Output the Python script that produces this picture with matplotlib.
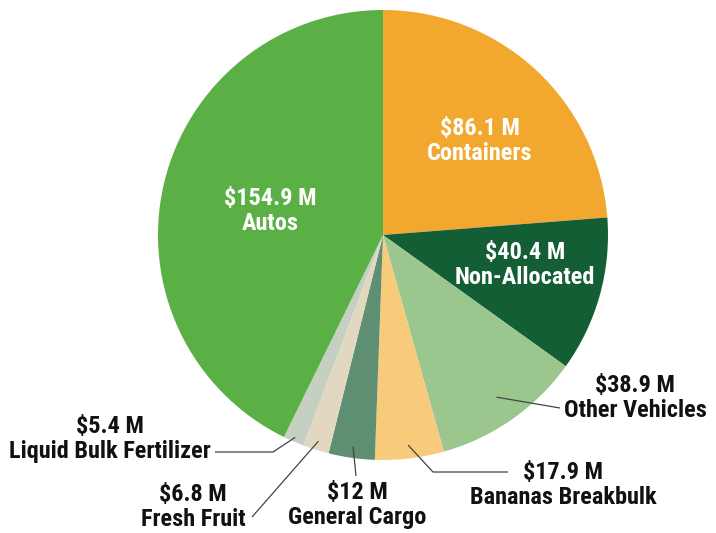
import numpy as np
import matplotlib
matplotlib.use("Agg")
import matplotlib.pyplot as plt
from matplotlib import font_manager

# ---- data ----
categories = ["Containers", "Non-Allocated", "Other Vehicles", "Bananas Breakbulk",
              "General Cargo", "Fresh Fruit", "Liquid Bulk Fertilizer", "Autos"]
values = [86.1, 40.4, 38.9, 17.9, 12, 6.8, 5.4, 154.9]
value_labels = ["$86.1 M", "$40.4 M", "$38.9 M", "$17.9 M", "$12 M", "$6.8 M", "$5.4 M", "$154.9 M"]
colors = ["#F2A72E", "#145E36", "#9BC78F", "#F7CA7C", "#5E8F73", "#E2D8C0", "#C6D0C2", "#5AB045"]

# ---- font ----
names = {f.name for f in font_manager.fontManager.ttflist}
STRETCH = "normal"
FS = 16
for cand in ["Roboto Condensed", "Liberation Sans Narrow", "DejaVu Sans Condensed",
             "Open Sans Condensed"]:
    if cand in names:
        FAM = [cand, "DejaVu Sans"]
        FS = 17.5
        break
else:
    FAM = ["Roboto", "DejaVu Sans"]
plt.rcParams["font.family"] = FAM

W, H = 716, 533
fig = plt.figure(figsize=(W / 100, H / 100), dpi=100)
ax = fig.add_axes([0, 0, 1, 1])
ax.set_xlim(0, W)
ax.set_ylim(0, H)
ax.set_aspect("equal")
ax.axis("off")

def Y(y):
    return H - y

cx, cy, R = 383, Y(235), 225
wedges, _ = ax.pie(values, colors=colors, startangle=90, counterclock=False,
                   center=(cx, cy), radius=R, frame=False,
                   wedgeprops=dict(linewidth=0))
ax.set_xlim(0, W)
ax.set_ylim(0, H)

def wedge_point(i, frac):
    w = wedges[i]
    a = np.deg2rad((w.theta1 + w.theta2) / 2)
    return cx + R * frac * np.cos(a), cy + R * frac * np.sin(a)

# inside labels (white)
inside = {7: (270, 211), 0: (480, 141), 1: (525, 265)}
for i, (x, y) in inside.items():
    ax.text(x, Y(y), value_labels[i] + "\n" + categories[i], color="white",
            fontsize=FS, fontweight="bold", ha="center", va="center", linespacing=1.15)

# outside labels (black) with leader lines
outside = {
    2: dict(pos=(635, 398), frac=0.88, path=[(560, 408)]),
    3: dict(pos=(563, 485), frac=0.94, path=[(433, 472), (508, 472)]),
    4: dict(pos=(357, 505), frac=0.95, path=[(356, 476)]),
    5: dict(pos=(193, 507), frac=0.96, path=[(252, 517)]),
    6: dict(pos=(110, 439), frac=0.98, path=[(273, 452), (215, 452)]),
}
for i, d in outside.items():
    x, y = d["pos"]
    ax.text(x, Y(y), value_labels[i] + "\n" + categories[i], color="#111111",
            fontsize=FS, fontweight="bold", ha="center", va="center", linespacing=1.15)
    sx, sy = wedge_point(i, d["frac"])
    xs = [sx] + [p[0] for p in d["path"]]
    ys = [sy] + [Y(p[1]) for p in d["path"]]
    ax.plot(xs, ys, color="#444444", lw=0.9, solid_capstyle="butt")

fig.savefig("out.png", dpi=100, facecolor="white")
